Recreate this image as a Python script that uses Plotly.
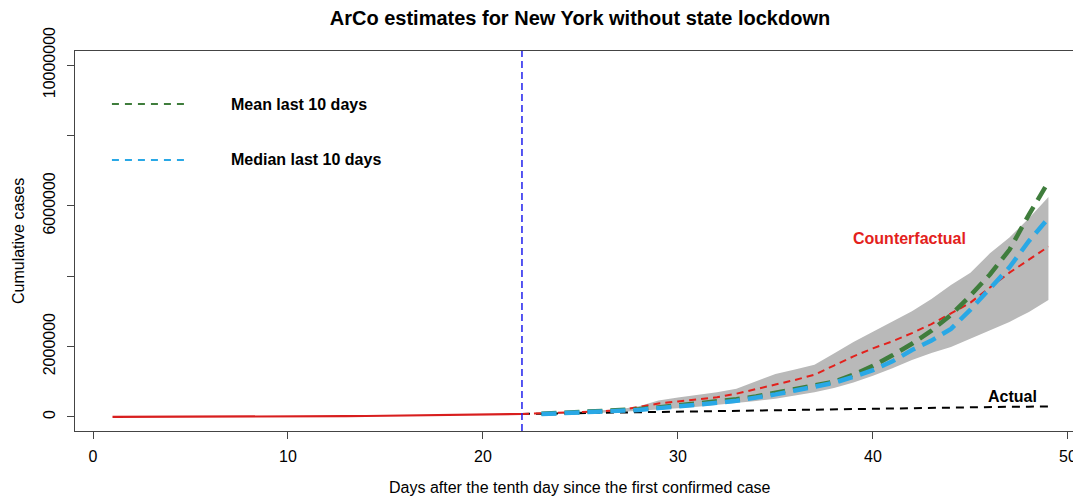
import plotly.graph_objects as go

# ---------------- data ----------------
pre_days = list(range(1, 23))
pre_cases = [216, 325, 421, 613, 729, 950, 1700, 2382, 4152, 7102, 10356, 15168,
             20875, 25665, 30811, 37258, 44635, 52318, 59513, 66497, 75795, 83712]

post_days = list(range(22, 50))
actual_post = [83712, 92381, 102863, 113704, 122031, 130689, 138863, 149316, 159937,
               170512, 180458, 188694, 195031, 202208, 213779, 222284, 229642, 236732,
               242786, 247512, 251690, 257216, 263460, 271590, 282143, 288045, 291996,
               295106]
counterfactual = [84000, 100000, 120000, 140000, 160000, 190000, 280000, 380000, 440000,
                  500000, 560000, 660000, 800000, 920000, 1050000, 1200000, 1460000,
                  1720000, 1950000, 2150000, 2380000, 2640000, 2940000, 3250000, 3680000,
                  4100000, 4470000, 4840000]

est_days = list(range(23, 50))
mean_10 = [90000, 110000, 130000, 150000, 180000, 220000, 270000, 320000, 370000, 430000,
           500000, 580000, 680000, 790000, 880000, 1000000, 1200000, 1450000, 1750000,
           2080000, 2450000, 2900000, 3450000, 4050000, 4750000, 5750000, 6680000]
median_10 = [80000, 100000, 120000, 140000, 170000, 200000, 250000, 290000, 340000, 400000,
             460000, 540000, 640000, 750000, 850000, 970000, 1140000, 1330000, 1580000,
             1900000, 2170000, 2500000, 3050000, 3650000, 4250000, 5000000, 5650000]
band_upper = [100000, 130000, 160000, 190000, 220000, 300000, 470000, 550000, 620000,
              700000, 800000, 1000000, 1220000, 1350000, 1480000, 1800000, 2130000,
              2420000, 2700000, 3000000, 3350000, 3750000, 4100000, 4650000, 5100000,
              5650000, 6250000]
band_lower = [70000, 80000, 100000, 120000, 140000, 170000, 210000, 250000, 290000,
              340000, 390000, 450000, 520000, 600000, 700000, 820000, 980000, 1170000,
              1380000, 1620000, 1820000, 1990000, 2220000, 2460000, 2700000, 2980000,
              3320000]

lockdown_day = 22
x_ticks = [0, 10, 20, 30, 40, 50]
y_ticks = [0, 2000000, 4000000, 6000000, 8000000, 10000000]
y_tick_text = ["0", "2000000", "", "6000000", "", "10000000"]

# ---------------- styling ----------------
RED = "#e3211c"
GREEN = "#3f7d3c"
BLUE = "#29a8e6"
GRAY = "#b9b9b9"
FONT = "Liberation Sans, Arial, sans-serif"

fig = go.Figure()

# uncertainty band
fig.add_trace(go.Scatter(x=est_days, y=band_lower, mode="lines",
                         line=dict(width=0, color=GRAY), showlegend=False, hoverinfo="skip"))
fig.add_trace(go.Scatter(x=est_days, y=band_upper, mode="lines", fill="tonexty",
                         fillcolor=GRAY, line=dict(width=0, color=GRAY),
                         showlegend=False, hoverinfo="skip"))

# actual after intervention
fig.add_trace(go.Scatter(x=post_days, y=actual_post, mode="lines",
                         line=dict(color="black", width=2, dash="8px,6px"), showlegend=False))
# pre-period
fig.add_trace(go.Scatter(x=pre_days, y=pre_cases, mode="lines",
                         line=dict(color="#d81e1e", width=2.2), showlegend=False))
# counterfactual
fig.add_trace(go.Scatter(x=post_days, y=counterfactual, mode="lines",
                         line=dict(color=RED, width=2, dash="7px,5px"), showlegend=False))
# mean / median
fig.add_trace(go.Scatter(x=est_days, y=mean_10, mode="lines",
                         line=dict(color=GREEN, width=4.5, dash="15px,8px"), showlegend=False))
fig.add_trace(go.Scatter(x=est_days, y=median_10, mode="lines",
                         line=dict(color=BLUE, width=4.5, dash="15px,8px"), showlegend=False))

# lockdown vertical line
fig.add_vline(x=lockdown_day, line=dict(color="#1f1fee", width=1.5, dash="7px,4px"))

# legend-like key (paper coordinates)
for yk, col, txt in [(0.8605, GREEN, "Mean last 10 days"), (0.7132, BLUE, "Median last 10 days")]:
    fig.add_shape(type="line", xref="paper", yref="paper", x0=0.037, x1=0.113, y0=yk, y1=yk,
                  line=dict(color=col, width=2, dash="7px,6px"))
    fig.add_annotation(xref="paper", yref="paper", x=0.1543, y=yk, xanchor="left",
                       yanchor="middle", text="<b>%s</b>" % txt, showarrow=False,
                       font=dict(family=FONT, size=16, color="black"))

# in-plot labels
fig.add_annotation(x=41.85, y=5060000, text="<b>Counterfactual</b>", showarrow=False,
                   font=dict(family=FONT, size=16, color=RED))
fig.add_annotation(x=47.18, y=570000, text="<b>Actual</b>", showarrow=False,
                   font=dict(family=FONT, size=16, color="black"))

# axis titles
fig.add_annotation(xref="paper", yref="paper", x=0.506, y=-0.15, xanchor="center",
                   yanchor="middle", text="Days after the tenth day since the first confirmed case",
                   showarrow=False, font=dict(family=FONT, size=16, color="black"))
fig.add_annotation(xref="paper", yref="paper", x=-0.0571, y=0.5, xanchor="center",
                   yanchor="middle", text="Cumulative cases", textangle=-90,
                   showarrow=False, font=dict(family=FONT, size=16, color="black"))

fig.update_layout(
    width=1073, height=496,
    margin=dict(l=75, r=0, t=51, b=65, autoexpand=False),
    paper_bgcolor="white", plot_bgcolor="white",
    showlegend=False,
    title=dict(text="<b>ArCo estimates for New York without state lockdown</b>",
               x=0.5405, xanchor="center", y=0.9637, yanchor="middle",
               font=dict(family=FONT, size=20, color="black")),
    font=dict(family=FONT, size=16, color="black"),
)
fig.update_xaxes(range=[-0.923, 50.26], tickvals=x_ticks, showgrid=False, zeroline=False,
                 automargin=False, ticklabeloverflow="allow",
                 showline=True, mirror=True, linecolor="#444", linewidth=1.2,
                 ticks="outside", ticklen=7, tickcolor="#444", ticklabelstandoff=4,
                 tickfont=dict(family=FONT, size=16, color="black"))
fig.update_yaxes(range=[-400000, 10400000], tickvals=y_ticks, ticktext=y_tick_text,
                 tickangle=-90, showgrid=False, zeroline=False, automargin=False,
                 showline=True, linecolor="#444", linewidth=1.2,
                 ticks="outside", ticklen=7, tickcolor="#444", ticklabelstandoff=6,
                 tickfont=dict(family=FONT, size=16, color="black"))

fig.write_html("out.html",
               config={"displayModeBar": False},
               post_script="document.body.style.margin='0px';"
                           "document.body.style.overflow='hidden';")
